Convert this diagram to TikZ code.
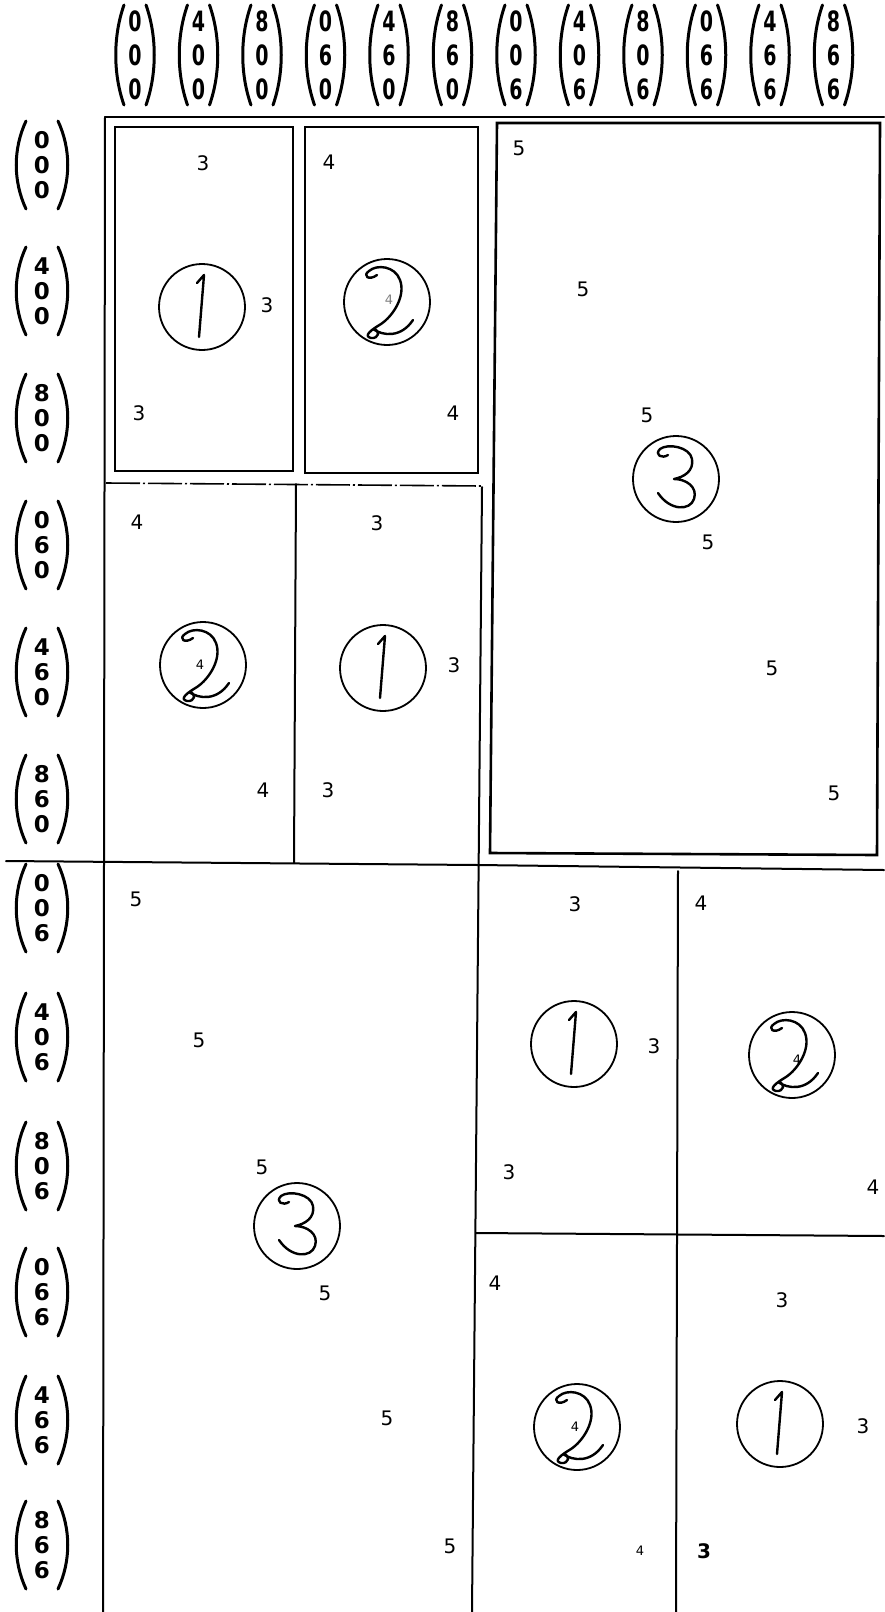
\documentclass[tikz,border=0pt]{standalone}
\usepackage{fontspec}
\newfontfamily\dv{DejaVu Sans}
\newcommand\hdig[1]{\scalebox{0.68}[1]{#1}}
\tikzset{
  gridl/.style={line width=2pt, line cap=round},
  boxl/.style={line width=2.6pt, line join=miter},
  circ/.style={circle, draw, line width=1.8pt, minimum size=86pt, inner sep=0pt},
  hand/.style={line width=2.4pt, line cap=round, line join=round},
  lab/.style={font=\dv\fontsize{20}{20}\selectfont, inner sep=0pt},
  smlab/.style={font=\dv\fontsize{13}{13}\selectfont, inner sep=0pt},
  hd/.style={font=\dv\bfseries\fontsize{28}{28}\selectfont, inner sep=0pt},
  rl/.style={font=\dv\bfseries\fontsize{23}{23}\selectfont, inner sep=0pt},
  paren/.style={line width=3pt, line cap=round},
  pics/hone/.style={code={\draw[hand] (-5,-24) -- (2,-32) -- (-3,30);}},
  pics/htwo/.style={code={\draw[hand] (-10,-27) .. controls (-18,-21) and (-25,-26) .. (-18,-31) .. controls (-10,-38) and (8,-36) .. (13,-22) .. controls (19,-6) and (6,14) .. (-6,22) .. controls (-16,28) and (-24,34) .. (-16,36) .. controls (-8,37) and (-6,28) .. (-14,27) .. controls (-4,34) and (14,36) .. (26,18);}},
  pics/hthree/.style={code={\draw[hand] (-8,-24) .. controls (-14,-20) and (-22,-24) .. (-16,-30) .. controls (-8,-36) and (14,-32) .. (16,-20) .. controls (18,-8) and (8,-2) .. (-2,0) .. controls (10,0) and (22,8) .. (18,20) .. controls (14,32) and (-6,32) .. (-18,14);}}
}
\begin{document}
\begin{tikzpicture}[x=1pt,y=-1pt]
\useasboundingbox (0,0) rectangle (884,1612);
\fill[white] (0,0) rectangle (884,1612);

% column headers
\foreach \i/\a/\b/\c in {0/0/0/0,1/4/0/0,2/8/0/0,3/0/6/0,4/4/6/0,5/8/6/0,6/0/0/6,7/4/0/6,8/8/0/6,9/0/6/6,10/4/6/6,11/8/6/6}{
  \pgfmathsetmacro\hx{135+63.5*\i}
  \node[hd] (h\i-a) at (\hx,21) {\hdig{\a}};
  \node[hd] (h\i-b) at (\hx,55) {\hdig{\b}};
  \node[hd] (h\i-c) at (\hx,89) {\hdig{\c}};
  \draw[paren] (\hx-11,5) .. controls (\hx-22,36) and (\hx-22,74) .. (\hx-11,105);
  \draw[paren] (\hx+11,5) .. controls (\hx+22,36) and (\hx+22,74) .. (\hx+11,105);
}

% row labels
\foreach \j/\a/\b/\c/\ry in {0/0/0/0/165,1/4/0/0/291,2/8/0/0/418,3/0/6/0/545,4/4/6/0/672,5/8/6/0/799,6/0/0/6/908,7/4/0/6/1037,8/8/0/6/1166,9/0/6/6/1292,10/4/6/6/1420,11/8/6/6/1545}{
  \node[rl] (r\j-a) at (42,\ry-25) {\a};
  \node[rl] (r\j-b) at (42,\ry) {\b};
  \node[rl] (r\j-c) at (42,\ry+25) {\c};
  \draw[paren] (26,\ry-44) .. controls (13,\ry-16) and (13,\ry+16) .. (26,\ry+44);
  \draw[paren] (58,\ry-44) .. controls (71,\ry-16) and (71,\ry+16) .. (58,\ry+44);
}

% grid
\draw[gridl] (105,117) -- (884,117);
\draw[gridl] (105,117) -- (103,1612);
\draw[gridl] (6,861) -- (478,865) -- (884,870);
\draw[boxl] (115,127) rectangle (293,471);
\draw[boxl] (305,127) rectangle (478,473);
\draw[line width=1.6pt, dash pattern=on 34pt off 3pt on 2pt off 3pt] (106,483) -- (482,486);
\draw[gridl] (296,484) -- (294,863);
\draw[gridl] (482,487) -- (472,1612);
\draw[boxl] (497,123) -- (880,123) -- (877,855) -- (490,853) -- cycle;
\draw[gridl] (678,871) -- (676,1612);
\draw[gridl] (476,1233) -- (884,1236);

% box 1 (top-left)
\node[circ] (c1) at (202,307) {};
\pic at (c1) {hone};
\node[lab] (c1-t) at (203,163) {3};
\node[lab] (c1-r) at (267,305) {3};
\node[lab] (c1-b) at (139,413) {3};

% box 2
\node[circ] (c2) at (387,302) {};
\pic at (c2) {htwo};
\node[smlab, gray] (c2-in) at (389,300) {4};
\node[lab] (c2-t) at (329,162) {4};
\node[lab] (c2-b) at (453,413) {4};

% box 3 (top-right)
\node[circ] (c3) at (676,479) {};
\pic at (c3) {hthree};
\node[lab] (c3-1) at (519,148) {5};
\node[lab] (c3-2) at (583,289) {5};
\node[lab] (c3-3) at (647,415) {5};
\node[lab] (c3-4) at (708,542) {5};
\node[lab] (c3-5) at (772,668) {5};
\node[lab] (c3-6) at (834,793) {5};

% rows 4-6, left
\node[circ] (c4) at (203,665) {};
\pic at (c4) {htwo};
\node[smlab] (c4-in) at (200,665) {4};
\node[lab] (c4-t) at (137,522) {4};
\node[lab] (c4-b) at (263,790) {4};

% rows 4-6, right
\node[circ] (c5) at (383,668) {};
\pic at (c5) {hone};
\node[lab] (c5-t) at (377,523) {3};
\node[lab] (c5-r) at (454,665) {3};
\node[lab] (c5-b) at (328,790) {3};

% bottom-left big
\node[circ] (c6) at (297,1226) {};
\pic at (c6) {hthree};
\node[lab] (c6-1) at (136,899) {5};
\node[lab] (c6-2) at (199,1040) {5};
\node[lab] (c6-3) at (262,1167) {5};
\node[lab] (c6-4) at (325,1293) {5};
\node[lab] (c6-5) at (387,1418) {5};
\node[lab] (c6-6) at (450,1546) {5};

% bottom middle top
\node[circ] (c7) at (574,1044) {};
\pic at (c7) {hone};
\node[lab] (c7-t) at (575,904) {3};
\node[lab] (c7-r) at (654,1046) {3};
\node[lab] (c7-b) at (509,1172) {3};

% bottom right top
\node[circ] (c8) at (792,1055) {};
\pic at (c8) {htwo};
\node[smlab] (c8-in) at (797,1060) {4};
\node[lab] (c8-t) at (701,903) {4};
\node[lab] (c8-b) at (873,1187) {4};

% bottom middle bottom
\node[circ] (c9) at (577,1427) {};
\pic at (c9) {htwo};
\node[smlab] (c9-in) at (575,1427) {4};
\node[lab] (c9-t) at (495,1283) {4};
\node[smlab] (c9-b) at (640,1551) {4};

% bottom right bottom
\node[circ] (c10) at (780,1424) {};
\pic at (c10) {hone};
\node[lab] (c10-t) at (782,1300) {3};
\node[lab] (c10-r) at (863,1426) {3};
\node[lab, font=\dv\bfseries\fontsize{20}{20}\selectfont] (c10-b) at (704,1551) {3};
\end{tikzpicture}
\end{document}
